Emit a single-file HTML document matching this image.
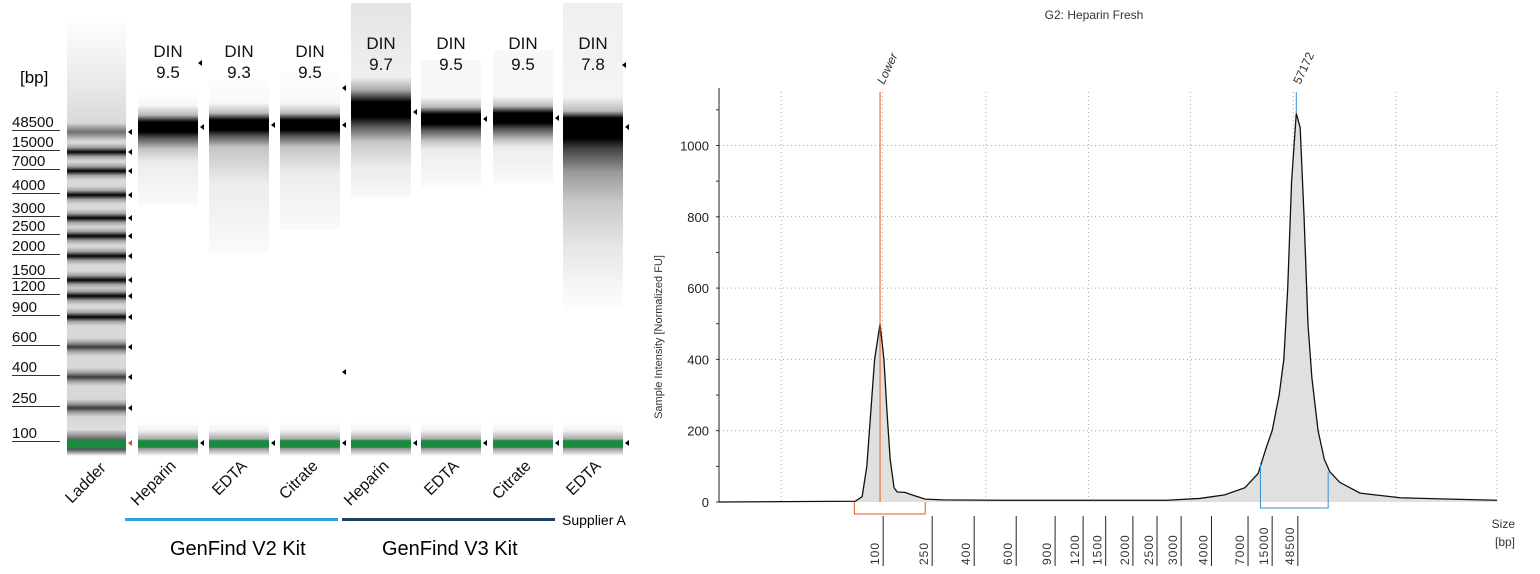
<!DOCTYPE html>
<html><head><meta charset="utf-8"><style>
body{margin:0;width:1540px;height:574px;background:#fff;position:relative;overflow:hidden;font-family:"Liberation Sans",sans-serif}
.a{position:absolute}
.lane{position:absolute}
.lbl{position:absolute;font-size:15px;color:#111;border-bottom:1px solid #333;width:48px;line-height:14px}
.mk{position:absolute;width:0;height:0;border-top:3px solid transparent;border-bottom:3px solid transparent;border-right:4px solid #000}
.din{position:absolute;font-size:17px;text-align:center;width:60px;line-height:21px;color:#111}
.ln{position:absolute;font-size:16px;transform:rotate(-45deg);transform-origin:right center;white-space:nowrap;text-align:right;color:#111;width:90px;line-height:18px}
</style></head><body>
<div id="gel"></div>
<div class="a" style="left:20px;top:68px;font-size:17px">[bp]</div>
<div class="a" style="left:125px;top:518px;width:213px;height:3px;background:#2aa4dc"></div>
<div class="a" style="left:342px;top:518px;width:213px;height:3px;background:#1e3f5f"></div>
<div class="a" style="left:562px;top:512px;font-size:14px">Supplier A</div>
<div class="a" style="left:170px;top:538px;font-size:20px">GenFind V2 Kit</div>
<div class="a" style="left:382px;top:538px;font-size:20px">GenFind V3 Kit</div>
<svg id="chart" class="a" style="left:640px;top:0" width="900" height="574"></svg>
<script>
// ---------- gel data ----------
const ladderSizes=["48500","15000","7000","4000","3000","2500","2000","1500","1200","900","600","400","250","100"];
const ladderY=[132,152,171,195,218,236,256,280,296,317,347,377,408,443];
const laneNames=["Heparin","EDTA","Citrate","Heparin","EDTA","Citrate","EDTA"];
const dinValues=["9.5","9.3","9.5","9.7","9.5","9.5","7.8"];
const bandY=[127,125,125,112,119,118,127];
const laneTop=[95,80,72,3,60,50,3];
const laneBottom=[205,253,230,197,187,183,310];
const laneX=[138,209,280,351,421,493,563];
const gel=document.getElementById('gel');
function add(tag,css,name,cls){const e=document.createElement(tag);e.style.cssText=css;if(cls)e.className=cls;


gel.appendChild(e);return e;}
// ladder lane
add('div','left:67px;top:16px;width:59px;height:440px;background:linear-gradient(#fff,#eaeaea 15%,#d8d8d8 25%,#d8d8d8 92%,#f4f4f4)','ladder-lane','lane');
ladderSizes.forEach((s,i)=>{const y=ladderY[i];
 const dark=i==0?'#707070':(i>=10?'#3a3a3a':'#000');
 if(i<13)add('div',`left:67px;top:${y-9}px;width:59px;height:18px;background:linear-gradient(rgba(0,0,0,0),rgba(0,0,0,.25) 25%,${dark} 50%,rgba(0,0,0,.25) 75%,rgba(0,0,0,0))`,'ladder-band','lane');
 const l=add('div',`left:12px;top:${y-16}px`,'ladder-size-label','lbl');l.textContent=s;
 add('div',`left:128px;top:${y-3}px;${i==13?'border-right-color:#e05020':''}`,'ladder-marker','mk');
});
add('div','left:67px;top:430px;width:59px;height:26px;background:linear-gradient(#d8d8d8,#666 35%,#1b8a3e 40%,#1b8a3e 65%,#555 75%,#ffffff)','ladder-lower-marker','lane');
laneX.forEach((x,i)=>{
 const t=laneTop[i],b=bandY[i]-t,h=laneBottom[i]-t;
 const topC=i==3?'#e4e4e4':(i==6?'#f0f0f0':(i>=3?'#f8f8f8':'#fdfdfd'));
 let g;
 if(i==6) g=`${topC} 0,#f4f4f4 ${b-30}px,#bbb ${b-16}px,#000 ${b-9}px,#000 ${b+11}px,#444 ${b+22}px,#999 ${b+45}px,#c8c8c8 ${b+75}px,#e6e6e6 ${b+120}px,#f6f6f6 ${b+160}px,#fdfdfd ${h}px`;
 else if(i==3) g=`${topC} 0,#efefef ${b-35}px,#aaa ${b-22}px,#000 ${b-10}px,#000 ${b+5}px,#555 ${b+14}px,#c8c8c8 ${b+30}px,#ececec ${b+55}px,#f8f8f8 ${h}px`;
 else g=`${topC} 0,#f8f8f8 ${b-22}px,#bbb ${b-12}px,#000 ${b-5}px,#000 ${b+5}px,#555 ${b+11}px,#c4c4c4 ${b+22}px,#ececec ${b+(h-b)*0.45}px,#fafafa ${h}px`;
 add('div',`left:${x}px;top:${t}px;width:60px;height:${h}px;background:linear-gradient(${g})`,'dna-lane','lane');
 add('div',`left:${x}px;top:422px;width:60px;height:34px;background:linear-gradient(#fff,#f2f2f2 25%,#aaa 50%,#1b8a3e 55%,#1b8a3e 74%,#999 78%,#fff)`,'lower-marker-band','lane');
 add('div',`left:${x+62}px;top:${bandY[i]-3}px`,'band-marker','mk');
 add('div',`left:${x+62}px;top:440px`,'lower-marker-arrow','mk');
 const d=add('div',`left:${x}px;top:${i>=3?33:41}px`,'din-label','din');d.innerHTML='DIN<br>'+dinValues[i];
 const n=add('div',`left:${x+36-90}px;top:455px`,'lane-label','ln');n.textContent=laneNames[i];
 
});
[ [198,60],[342,85],[622,62],[342,369] ].forEach(p=>add('div',`left:${p[0]}px;top:${p[1]}px`,'din-marker','mk'));
const lad=add('div','left:14px;top:457px','lane-label-ladder','ln');lad.textContent='Ladder';

// ---------- chart data ----------
const yTicks=[0,200,400,600,800,1000];
const sizeLabels=["100","250","400","600","900","1200","1500","2000","2500","3000","4000","7000","15000","48500"];
const sizeTimes=[21.1,27.4,32.8,38.2,43.2,46.8,49.7,53.2,56.3,59.4,63.3,68.0,71.1,74.4];
const traceT=[0,17.5,18.4,19.0,19.5,20.0,20.7,21.2,21.6,22.0,22.5,22.9,23.9,24.8,26.5,28.8,35.8,57.6,61.8,65.0,67.6,69.3,70.3,71.1,72.0,72.6,73.1,73.6,74.2,74.7,75.2,75.7,76.2,77.0,77.8,78.5,79.8,82.4,87.5,94.0,100];
const traceY=[0,2,15,100,250,400,500,400,250,120,40,28,27,20,8,6,5,5,10,20,40,80,150,200,300,400,600,900,1090,1050,800,500,350,200,120,85,55,25,12,8,5];
const gridT=[8,21,34.3,47.5,60.6,73.8,87,100];
const lowerT=20.7, peakT=74.2;
const svg=document.getElementById('chart');const NS='http://www.w3.org/2000/svg';
const X0=79,X1=857,Y0=502,Y1=92,YMAX=1150;
const sx=t=>X0+t/100*(X1-X0), sy=v=>Y0-v/YMAX*(Y0-Y1);
function el(tag,at,name,txt){const e=document.createElementNS(NS,tag);for(const k in at)e.setAttribute(k,at[k]);


if(txt!==undefined)e.textContent=txt;svg.appendChild(e);return e;}
el('text',{x:454,y:19,'font-size':12,'text-anchor':'middle',fill:'#333'},'chart-title','G2: Heparin Fresh');
gridT.forEach(t=>el('line',{x1:sx(t),x2:sx(t),y1:Y1,y2:Y0,stroke:'#aaa','stroke-dasharray':'1,3'},'x-gridline'));
yTicks.forEach(v=>{if(v>0)el('line',{x1:X0,x2:X1,y1:sy(v),y2:sy(v),stroke:'#aaa','stroke-dasharray':'1,3'},'y-gridline');
 el('text',{x:X0-10,y:sy(v)+5,'font-size':13,'text-anchor':'end',fill:'#222'},'y-tick-label',String(v));});
for(let v=0;v<=1100;v+=100)el('line',{x1:X0-3,x2:X0,y1:sy(v),y2:sy(v),stroke:'#333'},'y-minor-tick');
el('line',{x1:X0,x2:X0,y1:Y1-4,y2:Y0,stroke:'#222'},'y-axis');
el('text',{x:0,y:0,'font-size':11,'text-anchor':'middle',fill:'#333',transform:`translate(22,${(Y0+Y1)/2+40}) rotate(-90)`},'y-axis-title','Sample Intensity [Normalized FU]');
let d='M'+sx(traceT[0])+','+sy(0);traceT.forEach((t,i)=>d+=' L'+sx(t)+','+sy(traceY[i]));
el('path',{d:d+' L'+sx(100)+','+sy(0)+' Z',fill:'#e0e0e0',stroke:'none'},'trace-fill');
el('path',{d:d,fill:'none',stroke:'#111','stroke-width':1.3},'trace-line');
el('line',{x1:sx(lowerT),x2:sx(lowerT),y1:Y1,y2:Y0,stroke:'#e06020','stroke-width':1},'lower-marker-line');
el('text',{x:0,y:0,'font-size':12,'font-style':'italic',fill:'#333',transform:`translate(${sx(lowerT)+4},85) rotate(-65)`},'lower-marker-label','Lower');
el('line',{x1:sx(peakT),x2:sx(peakT),y1:Y1,y2:sy(1090),stroke:'#3a90d0'},'peak-marker-line');
el('text',{x:0,y:0,'font-size':12,fill:'#333',transform:`translate(${sx(peakT)+4},85) rotate(-65)`},'peak-size-label','57172');
el('path',{d:`M${sx(17.4)},${Y0} V${Y0+12} H${sx(26.5)} V${Y0}`,fill:'none',stroke:'#e06020'},'lower-peak-region');
el('path',{d:`M${sx(69.6)},${sy(110)} V${Y0+6} H${sx(78.3)} V${sy(85)}`,fill:'none',stroke:'#3a90d0'},'main-peak-region');
sizeLabels.forEach((s,i)=>{const x=sx(sizeTimes[i]);
 el('line',{x1:x,x2:x,y1:516,y2:566,stroke:'#222'},'size-tick');
 el('text',{x:0,y:0,'font-size':12,fill:'#333','letter-spacing':'1',transform:`translate(${x-4},565) rotate(-90)`},'size-tick-label',s);});
el('text',{x:875,y:528,'font-size':12,'text-anchor':'end',fill:'#333'},'x-axis-title','Size');
el('text',{x:875,y:546,'font-size':12,'text-anchor':'end',fill:'#333'},'x-axis-unit','[bp]');
</script>
</body></html>
